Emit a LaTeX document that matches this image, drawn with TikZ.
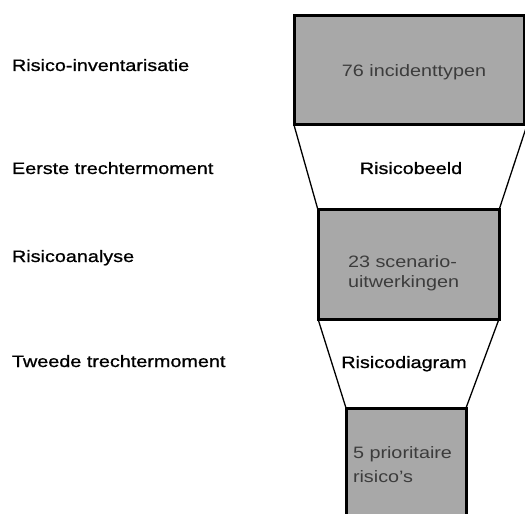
\documentclass[tikz,border=0pt]{standalone}
\usepackage{fontspec}
\setmainfont{Liberation Sans}[FakeStretch=1.2]
\newfontfamily\heavylbl{Liberation Sans}[FakeStretch=1.2,FakeBold=0.9]
\definecolor{boxgray}{RGB}{168,168,168}
\definecolor{txtgray}{RGB}{60,60,60}
\tikzset{
  box/.style={rectangle, draw=black, line width=3bp, fill=boxgray, outer sep=0pt, inner sep=0pt},
  lbl/.style={font=\heavylbl\fontsize{16.5bp}{20bp}\selectfont, inner sep=0pt, outer sep=0pt, text=black},
  boxtxt/.style={font=\fontsize{16.5bp}{20bp}\selectfont, inner sep=0pt, outer sep=0pt, text=txtgray},
  funnel/.style={line width=1.3bp, black}
}
\begin{document}
\begin{tikzpicture}[x=1bp,y=-1bp]
\useasboundingbox (0,0) rectangle (525,514);
\clip (0,0) rectangle (525,514);
\fill[white] (0,0) rectangle (525,514);
% boxes
\node[box, minimum width=230bp, minimum height=109bp] (b1) at (409,70.5) {};
\node[box, minimum width=181bp, minimum height=109bp] (b2) at (408.5,264.5) {};
\node[box, minimum width=120bp, minimum height=122bp] (b3) at (406,469) {};
% funnel sides
\draw[funnel] (b1.south west) -- (b2.north west);
\draw[funnel] ([xshift=3bp]b1.south east) -- (b2.north east);
\draw[funnel] (b2.south west) -- (b3.north west);
\draw[funnel] (b2.south east) -- (b3.north east);
% box texts
\node[boxtxt, anchor=base] (t1) at (414,77) {76 incidenttypen};
\node[boxtxt, anchor=base west] (t2a) at (348,267) {23 scenario-};
\node[boxtxt, anchor=base west] (t2b) at (348,287) {uitwerkingen};
\node[boxtxt, anchor=base west] (t3a) at (353,458) {5 prioritaire};
\node[boxtxt, anchor=base west] (t3b) at (353,482) {risico's};
% funnel labels
\node[lbl, anchor=base] (f1) at (411,174) {Risicobeeld};
\node[lbl, anchor=base] (f2) at (404,368) {Risicodiagram};
% left labels
\node[lbl, anchor=base west] (l1) at (12,71) {Risico-inventarisatie};
\node[lbl, anchor=base west] (l2) at (12,174) {Eerste trechtermoment};
\node[lbl, anchor=base west] (l3) at (12,262) {Risicoanalyse};
\node[lbl, anchor=base west] (l4) at (12,367) {Tweede trechtermoment};
\end{tikzpicture}
\end{document}
